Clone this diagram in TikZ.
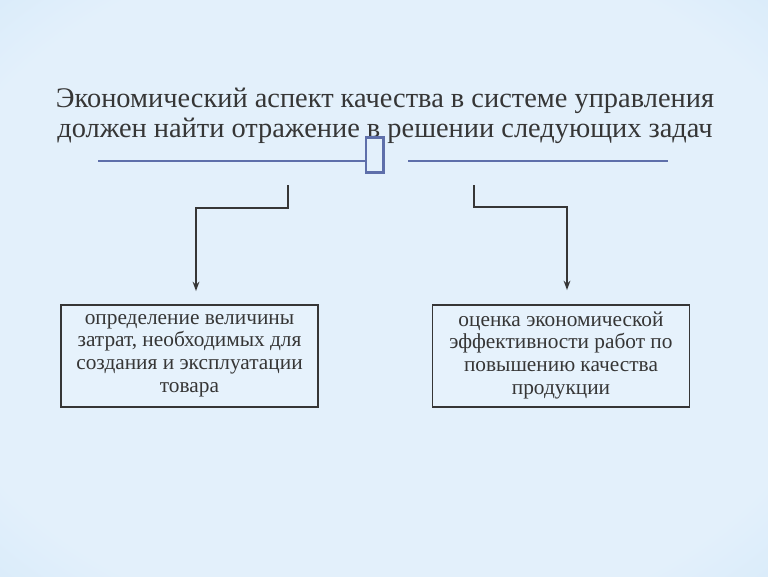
\documentclass[tikz,border=0pt]{standalone}
\usepackage{fontspec}
\setmainfont{Liberation Serif}
\usetikzlibrary{arrows.meta,calc}

\definecolor{bgin}{HTML}{E3F0FB}
\definecolor{bgout}{HTML}{A2D1F5}
\definecolor{ink}{HTML}{363636}
\definecolor{rulecol}{HTML}{5E6FAA}
\definecolor{boxfill}{HTML}{E6F2FC}

\pgfdeclareradialshading{slidebg}{\pgfpoint{0bp}{0bp}}{color(0bp)=(bgin); color(30bp)=(bgin); color(72bp)=(bgout)}

\begin{document}
\begin{tikzpicture}[x=0.75pt, y=-0.75pt,
                    title/.style={align=center, text=ink, font=\fontsize{21.3pt}{23pt}\selectfont},
                    task/.style={draw=ink, line width=1.4pt, fill=boxfill, align=center, text=ink,
                                 minimum width=192.75pt, minimum height=76.5pt, inner sep=0pt,
                                 font=\fontsize{16pt}{17pt}\selectfont,
                                 execute at begin node={\rule{0pt}{12pt}},
                                 execute at end node={\rule[-4.5pt]{0pt}{4.5pt}}},
                    glyph/.style={draw=rulecol, line width=2pt, minimum width=13pt, minimum height=26pt, inner sep=0pt},
                    rule/.style={draw=rulecol, line width=0.9pt},
                    conn/.style={draw=ink, line width=1.2pt, -{Stealth[length=7pt,width=5pt]}}
]
\useasboundingbox (0,0) rectangle (768,576);
\shade[shading=slidebg] (0,0) rectangle (768,576);

\node [title] at (385,116) (head) {Экономический аспект качества в системе управления\\должен найти отражение в решении следующих задач};
\node [glyph] at (374.5,155) (glyph) {};
%
\draw [rule] (98,161) -- (glyph.west |- 0,161);
\draw [rule] (408,161) -- (668,161);
%
\node [task] at (189.5,356) (cost) {определение величины\\затрат, необходимых для\\создания и эксплуатации\\товара};
\node [task] at (561,356) (eff) {оценка экономической\\эффективности работ по\\повышению качества\\продукции};
%
\coordinate (lstart) at (288,185);
\coordinate (rstart) at (474,185);
\draw [conn] (lstart) -- ++(0,23) -| ($(cost.north)+(6.5,-13)$);
\draw [conn] (rstart) -- ++(0,22) -| ($(eff.north)+(6,-14)$);
\end{tikzpicture}
\end{document}
